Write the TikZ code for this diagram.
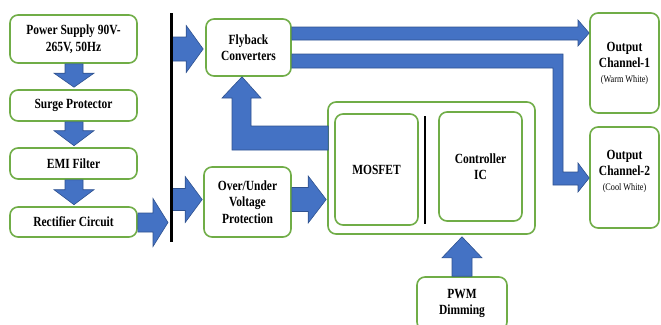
\documentclass[tikz,border=0pt]{standalone}
\usepackage{fontspec}
\setmainfont{Liberation Serif}[FakeStretch=0.82]
\usetikzlibrary{calc}

\definecolor{boxgreen}{HTML}{70AD47}
\definecolor{arrowblue}{HTML}{4472C4}
\definecolor{arrowedge}{HTML}{2F528F}

\newcommand\chansmall{\fontsize{10}{12}\selectfont}

\tikzset{
  blk/.style={draw=boxgreen, line width=1.6pt, rounded corners=8pt, fill=white,
    align=center, inner sep=0pt, font=\bfseries\fontsize{14}{16.5}\selectfont},
  blockarrow/.style={fill=arrowblue, draw=arrowedge, line width=0.6pt, line join=miter},
  busline/.style={line width=3pt, black},
}

% straight block arrows: #1 tail, #2 tip, #3 shaft width, #4 head width, #5 head length
\newcommand\blkright[5]{%
  \filldraw[blockarrow] let \p1=(#1), \p2=(#2) in
    (\x1,{\y2+#3/2}) -- ({\x2-#5},{\y2+#3/2}) -- ({\x2-#5},{\y2+#4/2}) -- (\x2,\y2)
    -- ({\x2-#5},{\y2-#4/2}) -- ({\x2-#5},{\y2-#3/2}) -- (\x1,{\y2-#3/2}) -- cycle;}
\newcommand\blkdown[5]{%
  \filldraw[blockarrow] let \p1=(#1), \p2=(#2) in
    ({\x2-#3/2},\y1) -- ({\x2-#3/2},{\y2+#5}) -- ({\x2-#4/2},{\y2+#5}) -- (\x2,\y2)
    -- ({\x2+#4/2},{\y2+#5}) -- ({\x2+#3/2},{\y2+#5}) -- ({\x2+#3/2},\y1) -- cycle;}
\newcommand\blkup[5]{%
  \filldraw[blockarrow] let \p1=(#1), \p2=(#2) in
    ({\x2-#3/2},\y1) -- ({\x2-#3/2},{\y2-#5}) -- ({\x2-#4/2},{\y2-#5}) -- (\x2,\y2)
    -- ({\x2+#4/2},{\y2-#5}) -- ({\x2+#3/2},{\y2-#5}) -- ({\x2+#3/2},\y1) -- cycle;}

\begin{document}
\begin{tikzpicture}[x=1pt, y=-1pt]
\useasboundingbox (0,0) rectangle (661,324);

% input chain
\node[blk, minimum width=127pt, minimum height=48pt] (ps)  at (73.5,39)    {Power Supply 90V-\\265V, 50Hz};
\node[blk, minimum width=127pt, minimum height=31pt] (sp)  at (73.5,105.5) {Surge Protector};
\node[blk, minimum width=127pt, minimum height=31pt] (emi) at (73.5,163.5) {EMI Filter};
\node[blk, minimum width=127pt, minimum height=30pt] (rec) at (73.5,222)   {Rectifier Circuit};

% converter stage
\node[blk, minimum width=85pt, minimum height=57pt] (fly) at (248.5,47.5) {Flyback\\Converters};
\node[blk, minimum width=87pt, minimum height=70pt] (ovp) at (247.5,202)  {Over/Under\\Voltage\\Protection};

% switching group
\node[blk, minimum width=207pt, minimum height=132pt] (grp) at (431.5,168) {};
\node[blk, minimum width=83pt, minimum height=111pt] (mos) at (376.5,169.5) {MOSFET};
\node[blk, minimum width=83pt, minimum height=109pt] (ctl) at (480.5,166.5) {Controller\\IC};
\node[blk, minimum width=90pt, minimum height=53pt] (pwm) at (462,303.5) {PWM\\Dimming};

% outputs
\node[blk, minimum width=69pt, minimum height=100pt] (out1) at (624.5,63)
  {Output\\Channel-1\\[-2pt]{\normalfont\chansmall(Warm White)}};
\node[blk, minimum width=69pt, minimum height=101pt] (out2) at (624.5,177.5) {};
\node[align=center, inner sep=0pt, font=\bfseries\fontsize{14}{16.5}\selectfont] (out2txt) at (624.5,171)
  {Output\\Channel-2\\[-2pt]{\normalfont\chansmall(Cool White)}};

% bus and divider coordinates
\coordinate (bustop) at (171,13);
\coordinate (busbot) at (171,242);
\coordinate (divtop) at (425,116);
\coordinate (divbot) at (425,224);

% down arrows of the input chain
\blkdown{ps.south}{$(sp.north)+(0.5,-2)$}{18pt}{40pt}{14pt}
\blkdown{sp.south}{$(emi.north)+(0.5,-1.5)$}{18pt}{40pt}{15pt}
\blkdown{emi.south}{$(rec.north)+(0.5,-1.5)$}{18pt}{40pt}{15pt}

% rectifier to bus
\blkright{rec.east}{$(bustop |- rec.east)+(-3,0.5)$}{19pt}{48pt}{15pt}

% bus to converter stage
\blkright{bustop |- fly.west}{$(fly.west)+(-2,1.5)$}{24pt}{47pt}{17pt}
\blkright{bustop |- ovp.west}{$(ovp.west)+(-1,-2.5)$}{22pt}{46pt}{17pt}

% protection to switching group
\blkright{ovp.east}{$(grp.west)+(-1,31.5)$}{24pt}{47pt}{18pt}

% PWM into controller
\blkup{pwm.north}{$(grp.south -| pwm.north)+(0,2)$}{20pt}{40pt}{21pt}

% feedback from switching group to flyback
\filldraw[blockarrow] ($(grp.west)+(1,-18)$) -- (232,150) -- (232,98) -- (222,98)
  -- ($(fly.south)+(-6.5,0)$) -- (261,98) -- (251,98) -- (251,126) -- ($(grp.west)+(1,-42)$) -- cycle;

% flyback to output channel 1
\filldraw[blockarrow] ($(fly.east)+(0,-20.5)$) -- (578,27) -- (578,20) -- ($(out1.west)+(0,-30)$)
  -- (578,46) -- (578,40) -- ($(fly.east)+(0,-7.5)$) -- cycle;

% flyback to output channel 2
\filldraw[blockarrow] ($(fly.east)+(0,6.5)$) -- (563,54) -- (563,172) -- (578,172) -- (578,163)
  -- ($(out2.west)+(0,0.5)$) -- (578,192) -- (578,185) -- (553,185) -- (553,68)
  -- ($(fly.east)+(0,20.5)$) -- cycle;

% bus and divider lines
\draw[busline] (bustop) -- (busbot);
\draw[line width=2.5pt] (divtop) -- (divbot);
\end{tikzpicture}
\end{document}
